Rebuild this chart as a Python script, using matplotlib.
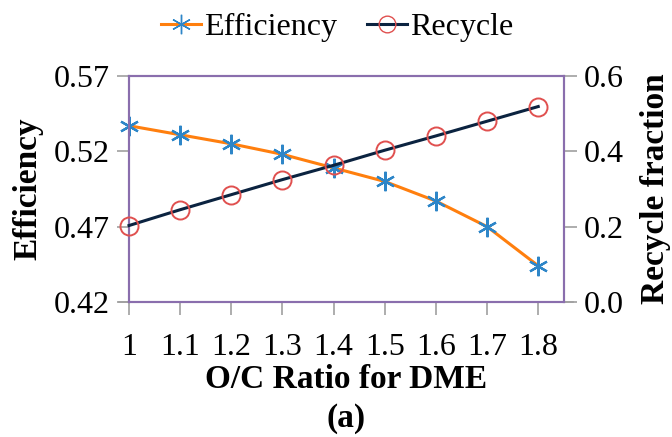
import matplotlib.pyplot as plt
from matplotlib.lines import Line2D

# O/C ratio values (x axis)
oc_ratio = [1.0, 1.1, 1.2, 1.3, 1.4, 1.5, 1.6, 1.7, 1.8]
x_labels = ["1", "1.1", "1.2", "1.3", "1.4", "1.5", "1.6", "1.7", "1.8"]

# efficiency (left axis)
efficiency = [0.537, 0.531, 0.525, 0.518, 0.509, 0.500, 0.487, 0.470, 0.444]

# recycle fraction (right axis)
recycle = [0.203, 0.245, 0.285, 0.325, 0.363, 0.403, 0.441, 0.480, 0.519]

plt.rcParams['font.family'] = ['Liberation Serif', 'DejaVu Serif']

FRAME = '#8A6EAD'
TICK = '#A0A0A0'
ORANGE = '#FF7F0E'
BLUE = '#2E86C8'
NAVY = '#0B2340'
RED = '#E0504F'
star = (6, 2, 0)


def main():
    fig = plt.figure(figsize=(6.72, 4.37), dpi=100)
    ax = fig.add_axes([0.192, 0.309, 0.647, 0.517])
    ax2 = ax.twinx()

    ax.plot(oc_ratio, efficiency, color=ORANGE, lw=2.2, marker=star, ms=14,
            mec=BLUE, mew=1.6, clip_on=False, zorder=3)
    ax2.plot(oc_ratio, recycle, color=NAVY, lw=2.2, marker='o', ms=13,
             mfc='none', mec=RED, mew=1.4, clip_on=False, zorder=3)

    ax.set_xlim(1.0, 1.85)
    ax.set_ylim(0.42, 0.57)
    ax2.set_ylim(0.0, 0.6)
    ax.set_xticks(oc_ratio)
    ax.set_xticklabels(x_labels)
    ax.set_yticks([0.42, 0.47, 0.52, 0.57])
    ax.set_yticklabels(["0.42", "0.47", "0.52", "0.57"])
    ax2.set_yticks([0.0, 0.2, 0.4, 0.6])
    ax2.set_yticklabels(["0.0", "0.2", "0.4", "0.6"])

    for a in (ax, ax2):
        for s in a.spines.values():
            s.set_color(FRAME)
            s.set_linewidth(1.5)
        a.tick_params(labelsize=23, color=TICK, width=1.2, length=9,
                      direction='out', pad=5)
    ax.tick_params(axis='x', pad=13)

    # gray axis line running past the frame at the bottom
    ax.plot([-0.022, 1.022], [0, 0], transform=ax.transAxes, color=TICK,
            lw=1.2, clip_on=False, zorder=0)

    ax.set_xlabel('O/C Ratio for DME', fontsize=24, fontweight='bold', labelpad=2)
    ax.set_ylabel('Efficiency', fontsize=24, fontweight='bold', labelpad=7)
    ax2.set_ylabel('Recycle fraction', fontsize=24, fontweight='bold', labelpad=12)

    fig.text(0.515, 0.042, '(a)', fontsize=24,
             fontweight='bold', ha='center', va='center')

    handles = [
        Line2D([], [], color=ORANGE, lw=2.2, marker=star, ms=14, mec=BLUE, mew=1.0),
        Line2D([], [], color=NAVY, lw=2.2, marker='o', ms=12, mfc='none', mec=RED, mew=1.0),
    ]
    fig.legend(handles, ['Efficiency', 'Recycle'], loc='center',
               bbox_to_anchor=(0.502, 0.937), ncol=2, frameon=False,
               fontsize=23, handlelength=1.25, handletextpad=0.1,
               columnspacing=0.95)

    fig.savefig('out.png', dpi=100)


if __name__ == "__main__":
    main()
